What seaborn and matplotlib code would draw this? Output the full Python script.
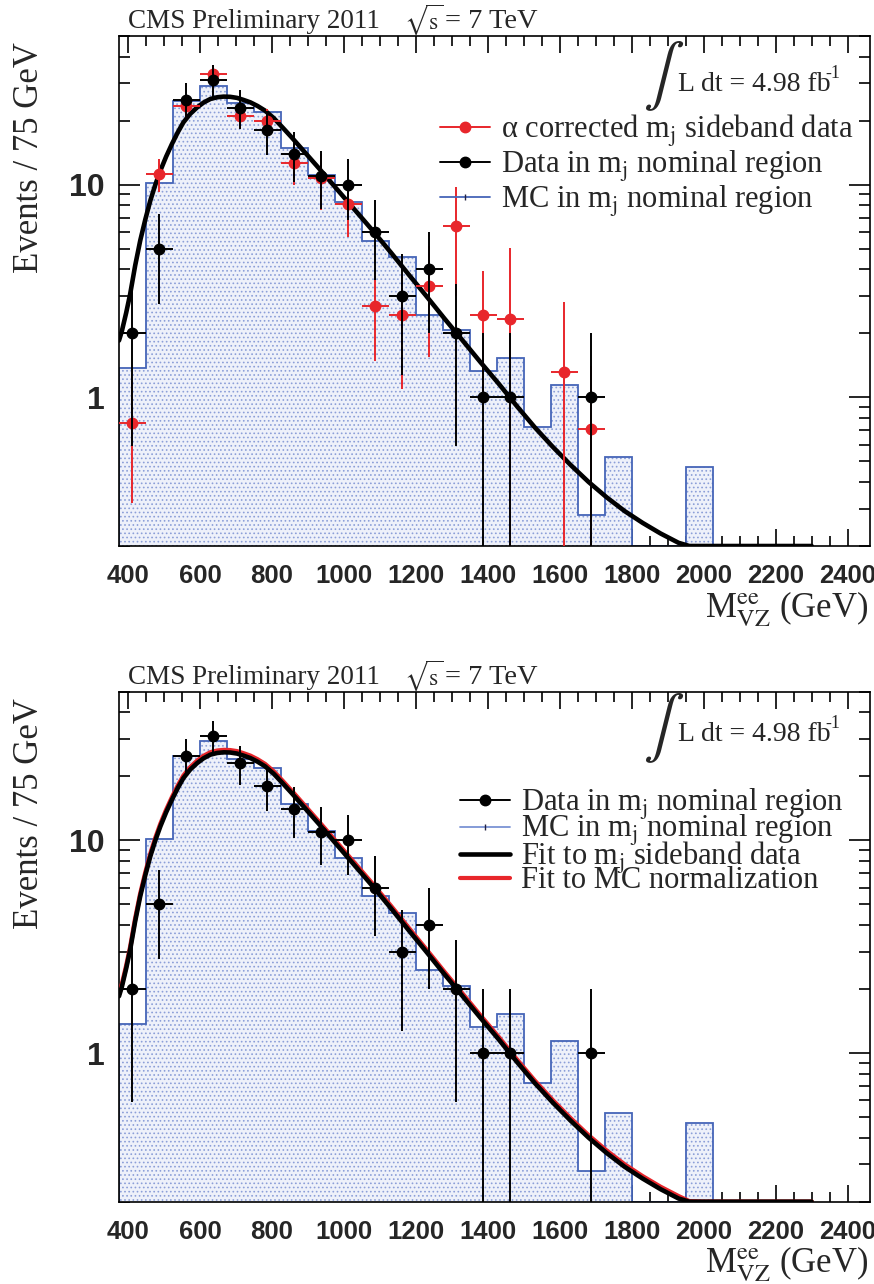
import numpy as np
import matplotlib
matplotlib.use("Agg")
import matplotlib.pyplot as plt
import seaborn as sns
from matplotlib.lines import Line2D
from matplotlib.ticker import LogLocator, NullFormatter

# ---------------- data ----------------
# MC histogram (75 GeV bins)
mc_edges = [375, 450, 525, 600, 675, 750, 825, 900, 975, 1050, 1125, 1200, 1275,
            1350, 1425, 1500, 1575, 1650, 1725, 1800, 1875, 1950, 2025, 2100,
            2175, 2250, 2300]
mc_values = [1.375, 10.2, 24.8, 29.2, 24.2, 22.0, 14.8, 11.1, 8.26, 5.46, 4.55,
             2.45, 2.07, 1.33, 1.53, 0.723, 1.14, 0.28, 0.522, 0, 0, 0.469, 0,
             0, 0, 0]

# Data in m_j nominal region
data_x = [412.5, 487.5, 562.5, 637.5, 712.5, 787.5, 862.5, 937.5, 1012.5,
          1087.5, 1162.5, 1237.5, 1312.5, 1387.5, 1462.5, 1687.5]
data_y = [2, 5, 25, 31, 23, 18, 14, 11, 10, 6, 3, 4, 2, 1, 1, 1]
data_err = [1.41, 2.24, 5.0, 5.57, 4.80, 4.24, 3.74, 3.32, 3.16, 2.45, 1.73,
            2.0, 1.41, 1.0, 1.0, 1.0]

# alpha corrected m_j sideband data
sb_x = [412.5, 487.5, 562.5, 637.5, 712.5, 787.5, 862.5, 937.5, 1012.5,
        1087.5, 1162.5, 1237.5, 1312.5, 1387.5, 1462.5, 1612.5, 1687.5]
sb_y = [0.76, 11.2, 23.5, 33.1, 21.1, 20.0, 12.7, 10.8, 8.1, 2.7, 2.45, 3.35,
        6.4, 2.44, 2.34, 1.31, 0.71]
sb_err = [0.44, 2.0, 3.0, 3.6, 2.9, 2.8, 2.7, 3.2, 2.4, 1.22, 1.35, 1.8, 3.4,
          1.47, 2.7, 1.5, 0.7]

bin_half_width = 37.5

# Fit to m_j sideband data (curve)
fit_x = [375, 383, 395, 406, 420, 434, 448, 462, 476, 490, 506, 522, 538, 554,
         573, 592, 610, 629, 648, 666, 684, 703, 720, 740, 760, 781, 805, 830,
         855, 880, 905, 930, 955, 980, 1005, 1030, 1055, 1080, 1130, 1180,
         1230, 1280, 1330, 1380, 1430, 1480, 1530, 1580, 1630, 1680, 1730,
         1780, 1830, 1880, 1930, 1960, 2000, 2100, 2200, 2300]
fit_y = [1.85, 2.05, 2.5, 3.06, 4.17, 5.46, 6.85, 8.41, 10.0, 11.64, 13.55,
         15.52, 17.58, 19.63, 21.53, 23.07, 24.32, 25.29, 25.76, 25.94, 25.88,
         25.59, 25.06, 24.38, 23.44, 22.28, 20.56, 18.54, 16.67, 14.93, 13.37,
         11.97, 10.69, 9.55, 8.53, 7.62, 6.81, 6.08, 4.81, 3.78, 2.98, 2.34,
         1.85, 1.46, 1.16, 0.912, 0.724, 0.586, 0.481, 0.400, 0.339, 0.292,
         0.257, 0.229, 0.207, 0.196, 0.183, 0.158, 0.138, 0.123]
# normalisation of the "Fit to MC normalization" curve relative to the sideband fit
mc_fit_norm = 1.025

x_ticks = [400, 600, 800, 1000, 1200, 1400, 1600, 1800, 2000, 2200, 2400]
x_tick_labels = ["400", "600", "800", "1000", "1200", "1400", "1600", "1800",
                 "2000", "2200", "2400"]
y_ticks = [1, 10]
y_tick_labels = ["1", "10"]

x_range = (375, 2462)
y_range = (0.2, 50)

# ---------------- style ----------------
sns.set_theme(style="ticks")
plt.rcParams.update({
    "font.family": ["Liberation Serif", "DejaVu Serif"],
    "mathtext.fontset": "stix",
    "axes.edgecolor": "black",
    "axes.linewidth": 1.2,
    "hatch.linewidth": 0.7,
    "hatch.color": "#8c9fd8",
})

RED = "#e8262b"
BLUE = "#4565b8"
W, H = 874, 1284
fig = plt.figure(figsize=(W / 100, H / 100), dpi=100)
fig.patch.set_facecolor("white")


def px_axes(l, t, r, b):
    return fig.add_axes([l / W, 1 - b / H, (r - l) / W, (b - t) / H])


def draw_common(ax):
    ymin = y_range[0]
    ax.set_yscale("log")
    mc = np.maximum(np.array(mc_values, dtype=float), ymin)
    ax.stairs(mc, mc_edges, baseline=ymin, fill=True, facecolor="#eef1fa",
              edgecolor="#8c9fd8", hatch="....", linewidth=0, zorder=1)
    ax.stairs(mc, mc_edges, baseline=ymin, fill=False, color=BLUE,
              linewidth=1.3, zorder=2)
    ax.set_xlim(*x_range)
    ax.set_ylim(*y_range)
    ax.set_xticks(x_ticks, labels=x_tick_labels,
                  fontfamily=["Liberation Sans", "DejaVu Sans"],
                  fontweight="bold", fontsize=18.5)
    ax.set_xticks(np.arange(400, 2450, 50), minor=True)
    ax.set_yticks(y_ticks, labels=y_tick_labels,
                  fontfamily=["Liberation Sans", "DejaVu Sans"],
                  fontweight="bold", fontsize=23)
    ax.yaxis.set_minor_locator(LogLocator(base=10, subs=np.arange(2, 10)))
    ax.yaxis.set_minor_formatter(NullFormatter())
    ax.tick_params(which="both", direction="in", top=True, right=True,
                   color="black", width=1.2)
    ax.tick_params(axis="x", which="major", length=12, pad=13)
    ax.tick_params(axis="x", which="minor", length=7)
    ax.tick_params(axis="y", which="major", length=15, pad=10)
    ax.tick_params(axis="y", which="minor", length=8)
    ax.set_facecolor("white")
    for s in ax.spines.values():
        s.set_visible(True)
        s.set_color("black")
        s.set_linewidth(1.2)


def errpoints(ax, x, y, err, color, z):
    y = np.array(y, dtype=float)
    err = np.array(err, dtype=float)
    lo = np.minimum(err, y - 1e-4)
    ax.errorbar(x, y, yerr=[lo, err], xerr=bin_half_width, fmt="o",
                color=color, ms=7.5, elinewidth=1.4, capsize=0, zorder=z)


ymin = y_range[0]

# ---------------- top panel ----------------
ax1 = px_axes(119, 36, 870, 546)
draw_common(ax1)
sns.lineplot(x=fit_x, y=np.maximum(fit_y, ymin), ax=ax1, color="black",
             linewidth=3.3, sort=False, estimator=None, zorder=3, legend=False)
errpoints(ax1, sb_x, sb_y, sb_err, RED, 4)
errpoints(ax1, data_x, data_y, data_err, "black", 5)

h_sb = Line2D([], [], color=RED, marker="o", ms=7.5, lw=1.4)
h_data = Line2D([], [], color="black", marker="o", ms=7.5, lw=1.4)
h_mc = Line2D([], [], color=BLUE, lw=1.3, marker="|", ms=4, mec="#222244")
ax1.legend([h_sb, h_data, h_mc],
           [r"α corrected m$_{\mathrm{j}}$ sideband data",
            r"Data in m$_{\mathrm{j}}$ nominal region",
            r"MC in m$_{\mathrm{j}}$ nominal region"],
           loc="upper left", bbox_to_anchor=(440 / W, 1 - 113 / H),
           bbox_transform=fig.transFigure, frameon=False, fontsize=22,
           handlelength=1.64, handletextpad=0.36, borderpad=0,
           borderaxespad=0, labelspacing=-0.01)

# ---------------- bottom panel ----------------
ax2 = px_axes(119, 691.7, 870, 1201.7)
draw_common(ax2)
sns.lineplot(x=fit_x, y=np.maximum(np.array(fit_y) * mc_fit_norm, ymin),
             ax=ax2, color=RED, linewidth=3.3, sort=False, estimator=None,
             zorder=3, legend=False)
sns.lineplot(x=fit_x, y=np.maximum(fit_y, ymin), ax=ax2, color="black",
             linewidth=3.3, sort=False, estimator=None, zorder=3.1,
             legend=False)
errpoints(ax2, data_x, data_y, data_err, "black", 5)

h_fit = Line2D([], [], color="black", lw=3.3)
h_fitmc = Line2D([], [], color=RED, lw=3.0)
ax2.legend([h_data, Line2D([], [], color="#7b93d4", lw=1.3, marker="|", ms=4,
                           mec="#222244"), h_fit, h_fitmc],
           [r"Data in m$_{\mathrm{j}}$ nominal region",
            r"MC in m$_{\mathrm{j}}$ nominal region",
            r"Fit to m$_{\mathrm{j}}$ sideband data",
            "Fit to MC normalization"],
           loc="upper left", bbox_to_anchor=(460 / W, 1 - 787 / H),
           bbox_transform=fig.transFigure, frameon=False, fontsize=22,
           handlelength=1.64, handletextpad=0.36, borderpad=0,
           borderaxespad=0, labelspacing=-0.3)

# ---------------- texts ----------------
for dy in (0, 655.7):
    fig.text(128 / W, 1 - (28 + dy) / H, "CMS Preliminary 2011", fontsize=19.5,
             va="baseline", ha="left")
    fig.text(404 / W, 1 - (29 + dy) / H, r"$\sqrt{\mathrm{s}}$", fontsize=17,
             va="baseline", ha="left")
    fig.text(445 / W, 1 - (28 + dy) / H, "= 7 TeV", fontsize=20.5,
             va="baseline", ha="left")
    fig.text(30 / W, 1 - (42 + dy) / H, "Events / 75 GeV", fontsize=25,
             rotation=90, ha="center", va="top")
    fig.text(868 / W, 1 - (617 + dy) / H,
             r"M$_{\mathrm{VZ}}^{\mathrm{ee}}$ (GeV)", fontsize=25,
             ha="right", va="baseline")

for yc, yb in ((76, 91), (728, 741)):
    fig.text(664 / W, 1 - yc / H, r"$\int$", fontsize=44, ha="center",
             va="center")
    fig.text(678 / W, 1 - yb / H, "L dt = 4.98 fb", fontsize=20, ha="left",
             va="baseline")
    fig.text(825 / W, 1 - (yb - 13) / H, "-1", fontsize=13, ha="left",
             va="baseline")

fig.savefig("out.png", dpi=100, facecolor="white")
